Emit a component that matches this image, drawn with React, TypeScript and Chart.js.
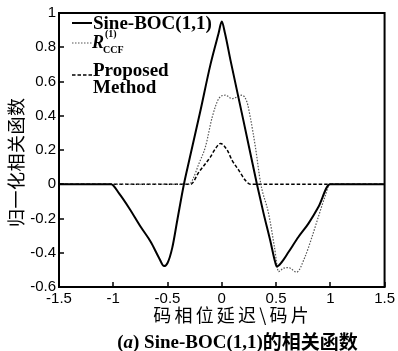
import React, { useEffect, useRef } from "react";
import { Chart, registerables } from "chart.js";

Chart.register(...registerables);

// ---- data ----
const xTickValues = [-1.5, -1, -0.5, 0, 0.5, 1, 1.5];
const yTickValues = [-0.6, -0.4, -0.2, 0, 0.2, 0.4, 0.6, 0.8, 1];

const sineDelay = [-1.5, -1.02, -0.945, -0.853, -0.746, -0.654, -0.578, -0.532, -0.5, -0.456, -0.41, -0.349, -0.3, -0.2, -0.104, -0.03, 0, 0.03, 0.08, 0.2, 0.324, 0.385, 0.447, 0.49, 0.507, 0.553, 0.615, 0.706, 0.798, 0.89, 0.997, 1.5];
const sineCorr = [0, 0, -0.055, -0.14, -0.25, -0.337, -0.43, -0.478, -0.46, -0.37, -0.21, 0, 0.14, 0.42, 0.7, 0.88, 0.95, 0.88, 0.725, 0.37, 0, -0.17, -0.33, -0.45, -0.48, -0.454, -0.396, -0.308, -0.23, -0.133, 0, 0];

const ccfDelay = [-1.5, -0.3, -0.27, -0.211, -0.15, -0.089, -0.028, 0.034, 0.095, 0.186, 0.232, 0.263, 0.309, 0.36, 0.431, 0.486, 0.523, 0.57, 0.615, 0.69, 0.766, 0.83, 0.89, 0.95, 0.997, 1.5];
const ccfCorr = [0, 0, 0.025, 0.12, 0.22, 0.39, 0.5, 0.52, 0.5, 0.52, 0.48, 0.39, 0.22, 0, -0.17, -0.37, -0.51, -0.49, -0.487, -0.513, -0.425, -0.31, -0.19, -0.074, 0, 0];

const propDelay = [-1.5, -0.287, -0.21, -0.104, -0.058, -0.012, 0.049, 0.095, 0.156, 0.217, 0.263, 1.5];
const propCorr = [0, 0, 0.072, 0.16, 0.209, 0.238, 0.2, 0.14, 0.082, 0.023, 0, 0];

const xAxisTitle = "码相位延迟\\码片";
const yAxisTitle = "归一化相关函数";
const captionPrefix = "(";
const captionItalic = "a";
const captionLatin = ") Sine-BOC(1,1)";
const captionCjk = "的相关函数";
const legendSine = "Sine-BOC(1,1)";
const legendCcfMain = "R";
const legendCcfSup = "(1)";
const legendCcfSub = "CCF";
const legendProp1 = "Proposed";
const legendProp2 = "Method";

const SERIF = '"Liberation Serif", "Times New Roman", serif';
const CJK = '"Noto Sans CJK SC", sans-serif';

const toPoints = (xs: number[], ys: number[]) => xs.map((x, i) => ({ x, y: ys[i] }));

function drawSpaced(ctx: CanvasRenderingContext2D, text: string, cx: number, y: number, spacing: number) {
  const chars = Array.from(text);
  const widths = chars.map((c) => ctx.measureText(c).width);
  const total = widths.reduce((a, b) => a + b, 0) + spacing * (chars.length - 1);
  let x = cx - total / 2;
  ctx.textAlign = "left";
  chars.forEach((c, i) => {
    ctx.fillText(c, x, y);
    x += widths[i] + spacing;
  });
}

const decorPlugin = {
  id: "decor",
  afterDatasetsDraw(chart: any) {
    const ctx: CanvasRenderingContext2D = chart.ctx;
    const a = chart.chartArea;
    const xs = chart.scales.x;
    const ys = chart.scales.y;
    ctx.save();
    // ticks (inward)
    ctx.strokeStyle = "#000";
    ctx.lineWidth = 1.5;
    ctx.beginPath();
    xTickValues.forEach((v) => {
      const px = Math.round(xs.getPixelForValue(v));
      ctx.moveTo(px, a.bottom);
      ctx.lineTo(px, a.bottom - 5);
    });
    yTickValues.forEach((v) => {
      const py = Math.round(ys.getPixelForValue(v));
      ctx.moveTo(a.left, py);
      ctx.lineTo(a.left + 5, py);
    });
    ctx.stroke();
    // box
    ctx.lineWidth = 2;
    ctx.strokeRect(a.left, a.top, a.right - a.left, a.bottom - a.top);

    // legend
    const lx0 = 72, lx1 = 92;
    ctx.lineWidth = 2;
    ctx.setLineDash([]);
    ctx.beginPath();
    ctx.moveTo(lx0, 23);
    ctx.lineTo(lx1, 23);
    ctx.stroke();
    ctx.lineWidth = 1.2;
    ctx.strokeStyle = "#555";
    ctx.setLineDash([1.5, 1.5]);
    ctx.beginPath();
    ctx.moveTo(lx0, 43);
    ctx.lineTo(lx1, 43);
    ctx.stroke();
    ctx.lineWidth = 1.5;
    ctx.strokeStyle = "#000";
    ctx.setLineDash([3.5, 2]);
    ctx.beginPath();
    ctx.moveTo(lx0, 75);
    ctx.lineTo(lx1, 75);
    ctx.stroke();
    ctx.setLineDash([]);

    ctx.fillStyle = "#000";
    ctx.textAlign = "left";
    ctx.textBaseline = "alphabetic";
    ctx.font = `bold 19px ${SERIF}`;
    ctx.fillText(legendSine, 93, 29);
    ctx.fillText(legendProp1, 93, 76);
    ctx.fillText(legendProp2, 93, 93);
    ctx.font = `italic bold 18px ${SERIF}`;
    ctx.fillText(legendCcfMain, 92, 48);
    ctx.font = `bold 10px ${SERIF}`;
    ctx.fillText(legendCcfSup, 105, 37);
    ctx.fillText(legendCcfSub, 103, 53);

    // x axis title
    ctx.font = `18px ${CJK}`;
    ctx.textBaseline = "middle";
    drawSpaced(ctx, xAxisTitle, 231, 315, 3.2);

    // y axis title
    ctx.save();
    ctx.translate(16, 162.5);
    ctx.rotate(-Math.PI / 2);
    ctx.font = `18px ${CJK}`;
    drawSpaced(ctx, yAxisTitle, 0, 0, 0.5);
    ctx.restore();

    // caption
    ctx.textBaseline = "alphabetic";
    const fB = `bold 19px ${SERIF}`;
    const fI = `italic bold 19px ${SERIF}`;
    const fC = `bold 19px ${CJK}`;
    ctx.font = fB; const w1 = ctx.measureText(captionPrefix).width;
    ctx.font = fI; const w2 = ctx.measureText(captionItalic).width;
    ctx.font = fB; const w3 = ctx.measureText(captionLatin).width;
    ctx.font = fC; const w4 = ctx.measureText(captionCjk).width;
    let cx = 237.5 - (w1 + w2 + w3 + w4) / 2;
    const by = 348;
    ctx.font = fB; ctx.fillText(captionPrefix, cx, by); cx += w1;
    ctx.font = fI; ctx.fillText(captionItalic, cx, by); cx += w2;
    ctx.font = fB; ctx.fillText(captionLatin, cx, by); cx += w3;
    ctx.font = fC; ctx.fillText(captionCjk, cx, by + 1);
    ctx.restore();
  },
};

export default function App() {
  const ref = useRef<HTMLCanvasElement | null>(null);
  useEffect(() => {
    if (!ref.current) return;
    const tickFont = { family: '"Liberation Sans", Arial, sans-serif', size: 15 };
    const chart = new Chart(ref.current, {
      type: "line",
      data: {
        datasets: [
          {
            label: "Sine-BOC(1,1)",
            data: toPoints(sineDelay, sineCorr),
            borderColor: "#000",
            borderWidth: 2,
            pointRadius: 0,
            cubicInterpolationMode: "monotone",
            fill: false,
          },
          {
            label: "R_CCF",
            data: toPoints(ccfDelay, ccfCorr),
            borderColor: "#555",
            borderWidth: 1.2,
            borderDash: [1.5, 1.5],
            pointRadius: 0,
            cubicInterpolationMode: "monotone",
            fill: false,
          },
          {
            label: "Proposed Method",
            data: toPoints(propDelay, propCorr),
            borderColor: "#000",
            borderWidth: 1.5,
            borderDash: [3.5, 2],
            pointRadius: 0,
            cubicInterpolationMode: "monotone",
            fill: false,
          },
        ],
      },
      options: {
        animation: false,
        responsive: false,
        devicePixelRatio: 1,
        layout: { padding: { left: 0, right: 12, top: 13, bottom: 0 } },
        plugins: { legend: { display: false }, tooltip: { enabled: false }, title: { display: false } },
        scales: {
          x: {
            type: "linear",
            min: -1.5,
            max: 1.5,
            grid: { display: false, drawTicks: false },
            border: { display: false },
            afterBuildTicks: (s: any) => {
              s.ticks = xTickValues.map((v) => ({ value: v }));
            },
            afterFit: (s: any) => {
              s.height = 64;
            },
            ticks: {
              color: "#000",
              font: tickFont,
              padding: 3,
              maxRotation: 0,
              autoSkip: false,
              callback: (v: any) => String(v),
            },
          },
          y: {
            type: "linear",
            min: -0.6,
            max: 1,
            grid: { display: false, drawTicks: false },
            border: { display: false },
            afterBuildTicks: (s: any) => {
              s.ticks = yTickValues.map((v) => ({ value: v }));
            },
            afterFit: (s: any) => {
              s.width = 59;
            },
            ticks: {
              color: "#000",
              font: tickFont,
              padding: 3,
              autoSkip: false,
              callback: (v: any) => String(v),
            },
          },
        },
      },
      plugins: [decorPlugin],
    });
    return () => chart.destroy();
  }, []);
  return (
    <div style={{ position: "absolute", left: 0, top: 0, width: 398, height: 351, background: "#fff" }}>
      <canvas ref={ref} width={398} height={351} style={{ display: "block" }} />
    </div>
  );
}
